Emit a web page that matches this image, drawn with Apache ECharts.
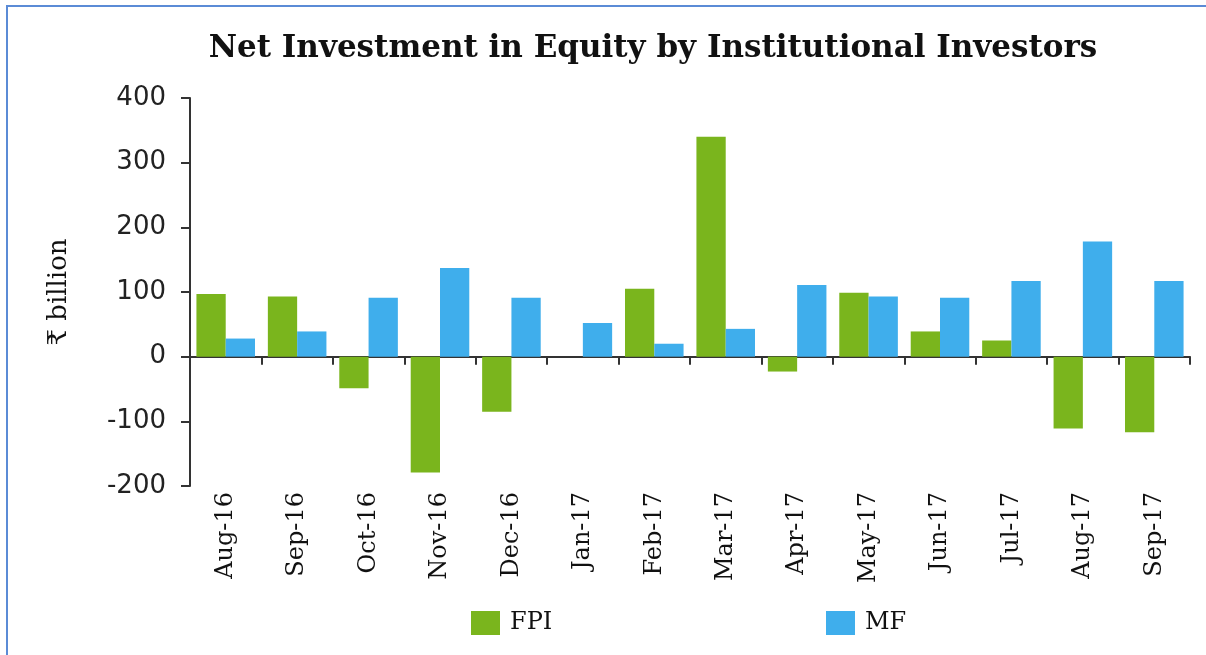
<!DOCTYPE html>
<html>
<head>
<meta charset="utf-8">
<script src="https://cdn.jsdelivr.net/npm/echarts@6/dist/echarts.min.js"></script>
<style>
  html, body { margin: 0; padding: 0; background: #fff; }
  #chart { width: 1206px; height: 655px; }
</style>
</head>
<body>
<div id="chart"></div>
<script>
// months shown on the x axis
const months = ['Aug-16', 'Sep-16', 'Oct-16', 'Nov-16', 'Dec-16', 'Jan-17', 'Feb-17',
  'Mar-17', 'Apr-17', 'May-17', 'Jun-17', 'Jul-17', 'Aug-17', 'Sep-17'];

// net investment, ₹ billion
const fpi = [97, 93, -49, -179, -85, 0, 105, 340, -23, 99, 39, 25, -111, -117];
const mf = [28, 39, 91, 137, 91, 52, 20, 43, 111, 93, 91, 117, 178, 117];

const yTicks = { min: -200, max: 400, step: 100 };

const GREEN = '#7AB51D';
const BLUE = '#3FAEEC';
const AXIS = '#333';

const legendText = { fontFamily: 'DejaVu Serif', fontSize: 24, color: '#111', padding: [4, 0, 0, 5] };

const chart = echarts.init(document.getElementById('chart'));

chart.setOption({
  backgroundColor: '#fff',
  animation: false,
  title: {
    text: 'Net Investment in Equity by Institutional Investors',
    left: 648,
    textAlign: 'center',
    top: 28,
    textStyle: { fontFamily: 'DejaVu Serif', fontWeight: 'bold', fontSize: 31, color: '#111' }
  },
  // two legends so each item sits where it is in the picture
  legend: [
    {
      data: ['FPI'], left: 471, top: 611, padding: 0,
      itemWidth: 29, itemHeight: 24, icon: 'rect', textStyle: legendText
    },
    {
      data: ['MF'], left: 826, top: 611, padding: 0,
      itemWidth: 29, itemHeight: 24, icon: 'rect', textStyle: legendText
    }
  ],
  grid: { left: 190, right: 16, top: 98, bottom: 169 },
  xAxis: [
    {
      // the line through zero, with ticks between months
      type: 'category',
      data: months,
      axisLine: { onZero: true, lineStyle: { color: AXIS, width: 2 } },
      axisTick: { show: true, length: 8, lineStyle: { color: AXIS, width: 2 } },
      axisLabel: { show: false },
      splitLine: { show: false }
    },
    {
      // month names below the plot
      type: 'category',
      data: months,
      position: 'bottom',
      axisLine: { show: false, onZero: false },
      axisTick: { show: false },
      axisLabel: {
        rotate: 90,
        margin: 6,
        fontFamily: 'DejaVu Serif',
        fontSize: 24,
        color: '#111'
      }
    }
  ],
  yAxis: {
    type: 'value',
    min: yTicks.min,
    max: yTicks.max,
    interval: yTicks.step,
    name: '₹ billion',
    nameLocation: 'middle',
    nameGap: 118,
    nameTextStyle: { fontFamily: 'DejaVu Serif', fontSize: 26, color: '#111' },
    axisLine: { show: true, lineStyle: { color: AXIS, width: 2 } },
    axisTick: { show: true, length: 9, lineStyle: { color: AXIS, width: 2 } },
    axisLabel: { margin: 24, fontFamily: 'DejaVu Sans', fontSize: 26, color: '#222' },
    splitLine: { show: false }
  },
  series: [
    {
      name: 'FPI',
      type: 'bar',
      data: fpi,
      itemStyle: { color: GREEN },
      barGap: '0%',
      barCategoryGap: '18%'
    },
    {
      name: 'MF',
      type: 'bar',
      data: mf,
      itemStyle: { color: BLUE }
    }
  ],
  graphic: [
    { type: 'line', shape: { x1: 6, y1: 6, x2: 1206, y2: 6 }, style: { stroke: '#5B8BD6', lineWidth: 2 } },
    { type: 'line', shape: { x1: 7, y1: 6, x2: 7, y2: 655 }, style: { stroke: '#5B8BD6', lineWidth: 2 } }
  ]
});

window.addEventListener('resize', () => chart.resize());
</script>
</body>
</html>
